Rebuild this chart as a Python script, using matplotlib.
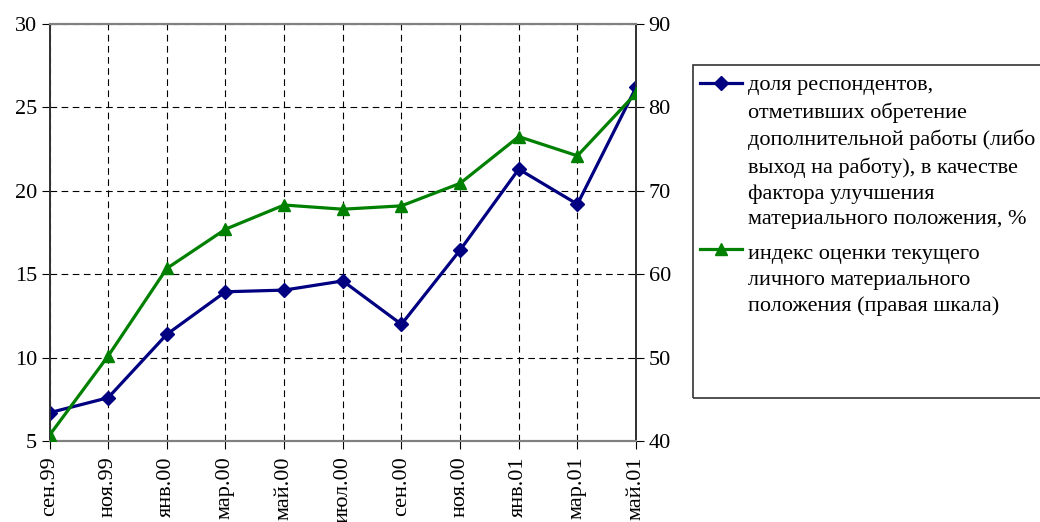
import matplotlib
matplotlib.use("Agg")
import matplotlib.pyplot as plt
from matplotlib.patches import Rectangle
from matplotlib.lines import Line2D

plt.rcParams['font.family'] = ['Liberation Serif', 'DejaVu Serif']

# данные
months = ["сен.99", "ноя.99", "янв.00", "мар.00", "май.00", "июл.00",
          "сен.00", "ноя.00", "янв.01", "мар.01", "май.01"]
share_job = [6.7, 7.6, 11.4, 13.95, 14.05, 14.6, 12.0, 16.45, 21.3, 19.2, 26.2]
index_state = [40.7, 50.2, 60.7, 65.4, 68.3, 67.8, 68.2, 70.9, 76.5, 74.2, 81.7]

label_job = ("доля респондентов,\nотметивших обретение\nдополнительной работы (либо\n"
             "выход на работу), в качестве\nфактора улучшения\nматериального положения, %")
label_index = "индекс оценки текущего\nличного материального\nположения (правая шкала)"

W, H = 1040, 522
fig = plt.figure(figsize=(W / 100, H / 100), dpi=100)
ax = fig.add_axes([0.0476, 0.155, 0.564, 0.799])
ax2 = ax.twinx()

x = list(range(len(months)))
ax.plot(x, share_job, color="#000080", lw=2.3, marker="D", ms=7.5, zorder=3)
ax2.plot(x, index_state, color="#008000", lw=2.3, marker="^", ms=9, zorder=3)

ax.set_xlim(0, len(months) - 1)
ax.set_ylim(5, 30)
ax2.set_ylim(40, 90)
ax.set_yticks([5, 10, 15, 20, 25, 30])
ax2.set_yticks([40, 50, 60, 70, 80, 90])
ax.set_xticks(x)
ax.set_xticklabels(months, rotation=90, fontsize=16)
ax.tick_params(axis="y", labelsize=16, length=6, direction="out", pad=3)
ax2.tick_params(axis="y", labelsize=16, length=6, direction="out", pad=3)
ax.tick_params(axis="x", length=6, direction="out", pad=5)

ax.grid(True, color="black", ls=(0, (6, 4)), lw=0.8)
ax.set_axisbelow(True)

for a in (ax, ax2):
    a.spines["top"].set_color("#808080")
    a.spines["top"].set_linewidth(1.5)
    a.spines["bottom"].set_color("#808080")
    a.spines["bottom"].set_linewidth(1.5)
    a.spines["left"].set_color("#333333")
    a.spines["right"].set_color("#333333")
    a.spines["left"].set_linewidth(1.3)
    a.spines["right"].set_linewidth(1.3)

# легенда вручную: маркер на уровне первой строки
fig.patches.append(Rectangle((693 / W, 1 - 398 / H), 0.4, (398 - 65) / H,
                             transform=fig.transFigure, fill=False,
                             edgecolor="#333333", lw=1.2, clip_on=False))
# (текст, цвет, маркер, размер, y маркера, y базовой линии последней строки)
entries = [(label_job, "#000080", "D", 7, 83, 224),
           (label_index, "#008000", "^", 8.5, 249, 311)]
for text, col, mk, ms, hy, by in entries:
    fig.add_artist(Line2D([700 / W, 742 / W], [1 - hy / H] * 2, color=col, lw=2.3,
                          transform=fig.transFigure))
    fig.add_artist(Line2D([721 / W], [1 - hy / H], color=col, marker=mk, ms=ms,
                          transform=fig.transFigure))
    fig.text(748 / W, 1 - by / H, text, fontsize=16, va="baseline", ha="left",
             linespacing=1.45)

fig.savefig("out.png", dpi=100)
